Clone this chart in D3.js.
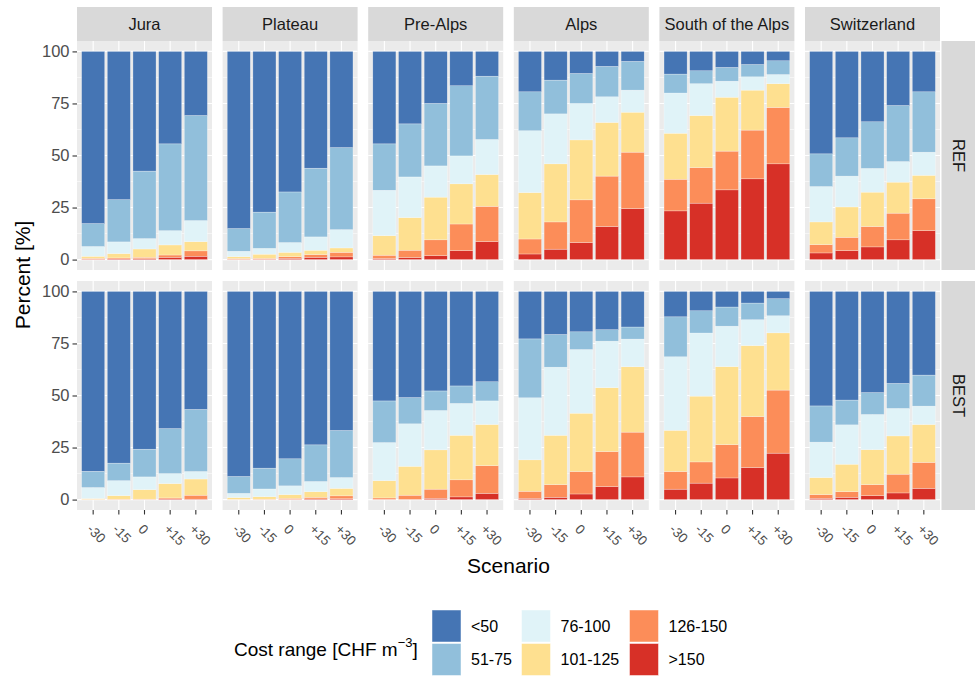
<!DOCTYPE html>
<html>
<head>
<meta charset="utf-8">
<script src="https://cdn.jsdelivr.net/npm/d3@7"></script>
<style>
  html, body { margin: 0; padding: 0; background: #ffffff; }
  svg { display: block; font-family: "Liberation Sans", Arial, sans-serif; }
</style>
</head>
<body>
<svg id="chart" width="975" height="676"></svg>
<script>
// ---- data ----
const regions = ["Jura", "Plateau", "Pre-Alps", "Alps", "South of the Alps", "Switzerland"];
const cases = ["REF", "BEST"];
const scenarios = ["-30", "-15", "0", "+15", "+30"];
const costRanges = ["<50", "51-75", "76-100", "101-125", "126-150", ">150"];
const rangeColors = ["#4575B4", "#91BFDB", "#E0F3F8", "#FEE090", "#FC8D59", "#D73027"];
const yTicks = [0, 25, 50, 75, 100];

// each row: one scenario, values in % for [<50, 51-75, 76-100, 101-125, 126-150, >150]
const REF_Jura = [
  [82.7, 11.0, 4.7, 1.0, 0.4, 0.2],
  [71.2, 20.3, 5.6, 2.1, 0.5, 0.3],
  [57.5, 32.4, 5.0, 4.0, 0.7, 0.4],
  [44.4, 41.7, 6.85, 4.85, 1.1, 1.1],
  [30.8, 50.45, 10.1, 4.45, 2.6, 1.6]
];
const REF_Plateau = [
  [85.1, 10.9, 2.6, 0.9, 0.4, 0.1],
  [77.2, 17.4, 2.8, 2.0, 0.4, 0.2],
  [67.5, 24.3, 4.7, 2.1, 0.8, 0.6],
  [56.1, 33.0, 6.4, 2.1, 1.3, 1.1],
  [46.2, 39.4, 8.8, 2.1, 2.2, 1.3]
];
const REF_PreAlps = [
  [44.4, 22.3, 21.8, 9.4, 1.6, 0.5],
  [34.8, 25.5, 19.5, 15.7, 3.5, 1.0],
  [25.0, 30.0, 15.0, 20.5, 7.6, 1.9],
  [16.5, 33.7, 13.4, 19.3, 12.8, 4.3],
  [11.9, 30.4, 16.8, 15.3, 16.95, 8.65]
];
const REF_Alps = [
  [19.4, 18.7, 29.7, 22.3, 7.2, 2.7],
  [13.8, 16.2, 24.0, 27.9, 13.1, 5.0],
  [10.6, 14.4, 17.5, 28.8, 20.5, 8.2],
  [7.2, 14.6, 12.3, 25.8, 24.2, 15.9],
  [4.8, 13.8, 10.6, 19.2, 27.1, 24.5]
];
const REF_South = [
  [10.9, 9.1, 19.3, 22.1, 15.2, 23.4],
  [9.3, 6.2, 15.3, 25.0, 17.1, 27.1],
  [7.7, 6.6, 7.7, 25.9, 18.6, 33.5],
  [6.3, 5.9, 6.4, 19.2, 23.4, 38.8],
  [4.5, 6.6, 4.4, 11.4, 27.1, 46.0]
];
const REF_Switzerland = [
  [49.2, 15.7, 17.0, 10.9, 4.0, 3.2],
  [41.5, 18.4, 14.8, 14.6, 6.4, 4.3],
  [33.8, 22.4, 11.4, 16.5, 9.8, 6.1],
  [26.0, 26.9, 9.9, 14.9, 12.8, 9.5],
  [19.4, 29.0, 11.1, 11.3, 15.3, 13.9]
];
const BEST_Jura = [
  [86.4, 7.8, 5.3, 0.4, 0.1, 0.0],
  [82.5, 8.4, 7.2, 1.7, 0.2, 0.0],
  [75.8, 13.3, 6.1, 4.6, 0.1, 0.1],
  [65.9, 21.6, 4.8, 6.9, 0.5, 0.3],
  [56.7, 29.8, 3.6, 7.8, 1.9, 0.2]
];
const BEST_Plateau = [
  [88.9, 8.1, 2.0, 0.9, 0.1, 0.0],
  [84.9, 10.0, 3.7, 1.2, 0.2, 0.0],
  [80.4, 13.0, 4.2, 1.8, 0.5, 0.1],
  [73.7, 17.6, 4.9, 2.7, 0.8, 0.3],
  [66.8, 22.6, 5.2, 3.6, 1.4, 0.4]
];
const BEST_PreAlps = [
  [52.6, 20.0, 18.3, 8.3, 0.7, 0.1],
  [51.0, 12.6, 20.4, 13.9, 2.0, 0.1],
  [47.8, 9.4, 18.9, 18.9, 4.4, 0.6],
  [45.4, 8.4, 15.3, 21.4, 8.2, 1.3],
  [43.4, 9.2, 11.3, 19.8, 13.3, 3.0]
];
const BEST_Alps = [
  [22.8, 28.3, 29.8, 15.1, 3.4, 0.6],
  [20.7, 15.7, 32.7, 23.7, 6.1, 1.1],
  [19.4, 8.5, 30.6, 28.0, 10.8, 2.7],
  [18.4, 5.5, 22.3, 30.7, 16.85, 6.25],
  [17.1, 5.8, 13.3, 31.4, 21.5, 10.9]
];
const BEST_South = [
  [12.2, 19.2, 35.3, 19.8, 8.5, 5.0],
  [9.3, 10.7, 30.3, 31.6, 10.2, 7.9],
  [7.5, 9.2, 19.4, 37.5, 16.0, 10.4],
  [5.6, 8.0, 12.4, 34.1, 24.5, 15.4],
  [3.5, 8.2, 8.2, 27.5, 30.3, 22.3]
];
const BEST_Switzerland = [
  [55.0, 17.4, 17.0, 8.2, 1.8, 0.6],
  [52.2, 11.9, 18.9, 13.2, 2.7, 1.1],
  [48.6, 10.5, 16.9, 16.8, 5.3, 1.9],
  [44.2, 12.0, 13.2, 18.4, 9.0, 3.2],
  [40.2, 14.9, 8.8, 18.2, 12.5, 5.4]
];

const facetData = {
  REF: [REF_Jura, REF_Plateau, REF_PreAlps, REF_Alps, REF_South, REF_Switzerland],
  BEST: [BEST_Jura, BEST_Plateau, BEST_PreAlps, BEST_Alps, BEST_South, BEST_Switzerland]
};

// ---- layout ----
const svg = d3.select("#chart");
const panelX0 = 77, panelW = 135, panelStep = 145.6;
const rowTops = [41, 281], panelH = 229;
const stripTop = 7, stripH = 34;
const rightStripX = 941.5, rightStripW = 34;

const x = d3.scaleBand().domain(scenarios).range([0, panelW]).paddingInner(0.1).paddingOuter(0.18);
const y = d3.scaleLinear().domain([-5, 105]).range([panelH, 0]);
const color = d3.scaleOrdinal().domain(costRanges).range(rangeColors);

// stacking: bottom is ">150", top is "<50"
const stackKeys = costRanges.slice().reverse();
const stack = d3.stack().keys(stackKeys);

cases.forEach((cs, ri) => {
  regions.forEach((reg, ci) => {
    const g = svg.append("g").attr("transform", `translate(${panelX0 + ci * panelStep},${rowTops[ri]})`);
    g.append("rect").attr("width", panelW).attr("height", panelH).attr("fill", "#EBEBEB");
    // minor grid
    [12.5, 37.5, 62.5, 87.5].forEach(v => {
      g.append("line").attr("x1", 0).attr("x2", panelW).attr("y1", y(v)).attr("y2", y(v))
        .attr("stroke", "#FFFFFF").attr("stroke-width", 0.55);
    });
    // major grid
    yTicks.forEach(v => {
      g.append("line").attr("x1", 0).attr("x2", panelW).attr("y1", y(v)).attr("y2", y(v))
        .attr("stroke", "#FFFFFF").attr("stroke-width", 1.1);
    });
    scenarios.forEach(s => {
      const cx = x(s) + x.bandwidth() / 2;
      g.append("line").attr("x1", cx).attr("x2", cx).attr("y1", 0).attr("y2", panelH)
        .attr("stroke", "#FFFFFF").attr("stroke-width", 1.1);
    });
    // bars
    const rows = facetData[cs][ci].map((vals, i) => {
      const o = { scenario: scenarios[i] };
      costRanges.forEach((k, j) => o[k] = vals[j]);
      return o;
    });
    const series = stack(rows);
    series.forEach(ser => {
      g.append("g").selectAll("rect").data(ser).join("rect")
        .attr("x", d => x(d.data.scenario))
        .attr("width", x.bandwidth())
        .attr("y", d => y(d[1]))
        .attr("height", d => Math.max(0, y(d[0]) - y(d[1])))
        .attr("fill", color(ser.key))
        .attr("stroke", "#FFFFFF").attr("stroke-opacity", 0.55).attr("stroke-width", 0.5);
    });
    // y axis
    if (ci === 0) {
      const ya = g.append("g").call(d3.axisLeft(y).tickValues(yTicks).tickSize(4.5).tickPadding(3).tickFormat(d3.format("d")));
      ya.select(".domain").remove();
      ya.selectAll(".tick line").attr("stroke", "#333333").attr("stroke-width", 1.1);
      ya.selectAll(".tick text").attr("fill", "#4D4D4D").style("font-size", "16.5px")
        .style("font-family", "'Liberation Sans', Arial, sans-serif");
    }
    // x axis on bottom row
    if (ri === 1) {
      const xa = g.append("g").attr("transform", `translate(0,${panelH})`)
        .call(d3.axisBottom(x).tickSize(4.5).tickPadding(0));
      xa.select(".domain").remove();
      xa.selectAll(".tick line").attr("stroke", "#333333").attr("stroke-width", 1.1);
      xa.selectAll(".tick text")
        .attr("fill", "#4D4D4D").style("font-size", "13.5px")
        .style("font-family", "'Liberation Sans', Arial, sans-serif")
        .attr("text-anchor", "start").attr("y", 0).attr("dy", null)
        .attr("transform", "translate(-7,20) rotate(45)");
    }
    // top strip
    if (ri === 0) {
      svg.append("rect").attr("x", panelX0 + ci * panelStep).attr("y", stripTop)
        .attr("width", panelW).attr("height", stripH).attr("fill", "#D9D9D9");
      svg.append("text").attr("x", panelX0 + ci * panelStep + panelW / 2).attr("y", stripTop + stripH / 2)
        .attr("dy", "0.36em").attr("text-anchor", "middle").attr("fill", "#1A1A1A")
        .style("font-size", "16.5px").text(reg);
    }
  });
  // right strip
  svg.append("rect").attr("x", rightStripX).attr("y", rowTops[ri]).attr("width", rightStripW).attr("height", panelH)
    .attr("fill", "#D9D9D9");
  svg.append("text").attr("transform", `translate(${rightStripX + rightStripW / 2},${rowTops[ri] + panelH / 2}) rotate(90)`)
    .attr("dy", "0.36em").attr("text-anchor", "middle").attr("fill", "#1A1A1A")
    .style("font-size", "16.5px").text(cs);
});

// axis titles
svg.append("text").attr("transform", `translate(30,275) rotate(-90)`).attr("text-anchor", "middle")
  .attr("fill", "#000000").style("font-size", "21px").text("Percent [%]");
svg.append("text").attr("x", panelX0 + (5 * panelStep + panelW) / 2).attr("y", 573).attr("text-anchor", "middle")
  .attr("fill", "#000000").style("font-size", "21px").text("Scenario");

// legend
const lg = svg.append("g");
const lt = lg.append("text").attr("x", 234).attr("y", 656).attr("fill", "#000000").style("font-size", "19px");
lt.append("tspan").text("Cost range [CHF m");
lt.append("tspan").attr("dy", -9).style("font-size", "13px").text("\u22123");
lt.append("tspan").attr("dy", 9).text("]");

const keyW = 29, keyH = 32;
const colX = [432, 521.5, 629.5];
const rowY = [610, 643.5];
costRanges.forEach((k, i) => {
  const col = Math.floor(i / 2), row = i % 2;
  lg.append("rect").attr("x", colX[col]).attr("y", rowY[row]).attr("width", keyW).attr("height", keyH)
    .attr("fill", color(k)).attr("stroke", "#FFFFFF").attr("stroke-opacity", 0.6).attr("stroke-width", 0.8);
  lg.append("text").attr("x", colX[col] + keyW + 10).attr("y", rowY[row] + keyH / 2).attr("dy", "0.36em")
    .attr("fill", "#000000").style("font-size", "16px").text(k);
});
</script>
</body>
</html>
